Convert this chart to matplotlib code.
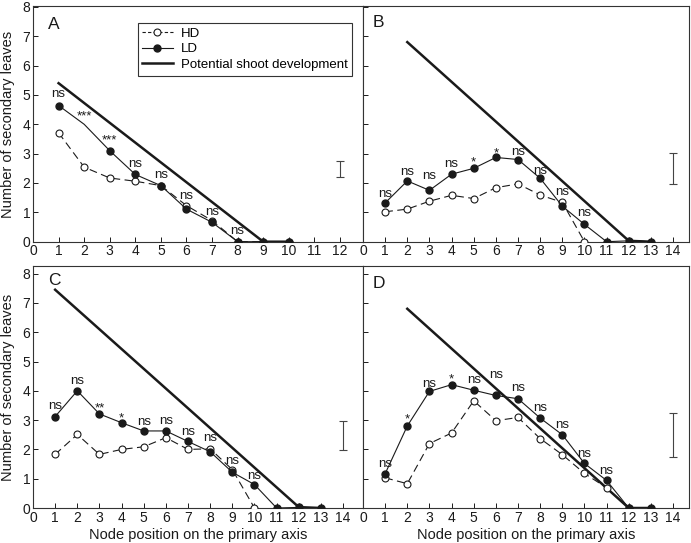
import matplotlib
matplotlib.use("Agg")
import matplotlib.pyplot as plt
from matplotlib.lines import Line2D

plt.rcParams['font.family'] = ['Liberation Sans', 'DejaVu Sans']

# ---- data ----
# panel A
a_ld_x = [1, 2, 3, 4, 5, 6, 7, 8, 9, 10]
a_ld_y = [4.64, 4.0, 3.1, 2.29, 1.91, 1.11, 0.66, 0, 0, 0]
a_hd_x = [1, 2, 3, 4, 5, 6, 7, 8, 9, 10]
a_hd_y = [3.71, 2.54, 2.17, 2.06, 1.91, 1.23, 0.72, 0, 0, 0]
a_pot_x = [1, 9, 10]
a_pot_y = [5.4, 0, 0]
a_sig = ["ns", "***", "***", "ns", "ns", "ns", "ns", "ns"]
a_sig_y = [4.92, 4.17, 3.34, 2.54, 2.17, 1.45, 0.92, 0.26]

# panel B
b_ld_x = [1, 2, 3, 4, 5, 6, 7, 8, 9, 10, 11, 12, 13]
b_ld_y = [1.32, 2.07, 1.75, 2.30, 2.50, 2.87, 2.80, 2.16, 1.21, 0.59, 0, 0.03, 0]
b_hd_x = [1, 2, 3, 4, 5, 6, 7, 8, 9, 10]
b_hd_y = [1.02, 1.11, 1.38, 1.58, 1.47, 1.84, 1.97, 1.59, 1.34, 0]
b_pot_x = [2, 12, 13]
b_pot_y = [6.8, 0.03, 0]
b_sig = ["ns", "ns", "ns", "ns", "*", "*", "ns", "ns", "ns", "ns"]
b_sig_y = [1.52, 2.26, 2.14, 2.54, 2.61, 2.92, 2.96, 2.31, 1.60, 0.89]

# panel C
c_ld_x = [1, 2, 3, 4, 5, 6, 7, 8, 9, 10, 11, 12, 13]
c_ld_y = [3.12, 4.0, 3.21, 2.91, 2.63, 2.63, 2.27, 1.92, 1.22, 0.8, 0, 0.02, 0]
c_hd_x = [1, 2, 3, 4, 5, 6, 7, 8, 9, 10]
c_hd_y = [1.83, 2.51, 1.83, 2.0, 2.09, 2.4, 2.0, 2.02, 1.31, 0]
c_pot_x = [1, 12, 13]
c_pot_y = [7.45, 0.03, 0]
c_sig = ["ns", "ns", "**", "*", "ns", "ns", "ns", "ns", "ns", "ns"]
c_sig_y = [3.38, 4.23, 3.31, 2.96, 2.84, 2.86, 2.48, 2.27, 1.50, 1.00]

# panel D
d_ld_x = [1, 2, 3, 4, 5, 6, 7, 8, 9, 10, 11, 12, 13]
d_ld_y = [1.17, 2.8, 3.98, 4.21, 4.02, 3.84, 3.73, 3.07, 2.50, 1.52, 0.94, 0, 0]
d_hd_x = [1, 2, 3, 4, 5, 6, 7, 8, 9, 10, 11, 12]
d_hd_y = [1.03, 0.83, 2.2, 2.56, 3.66, 2.98, 3.09, 2.37, 1.82, 1.18, 0.69, 0]
d_pot_x = [2, 12, 13]
d_pot_y = [6.8, 0, 0]
d_sig = ["ns", "*", "ns", "*", "ns", "ns", "ns", "ns", "ns", "ns", "ns"]
d_sig_y = [1.41, 2.91, 4.12, 4.27, 4.26, 4.43, 3.98, 3.30, 2.72, 1.74, 1.17]

# error bars (x, low, high)
err_x = [12, 14, 14, 14]
err_lo = [2.2, 1.98, 1.99, 1.74]
err_hi = [2.76, 3.01, 2.98, 3.25]

panel_letters = ["A", "B", "C", "D"]

col = "#1a1a1a"

fig = plt.figure(figsize=(6.91, 5.43), dpi=100)
rects = [
    [33 / 691, 1 - 241.7 / 543, 330 / 691, 235.7 / 543],
    [363 / 691, 1 - 241.7 / 543, 326 / 691, 235.7 / 543],
    [33 / 691, 1 - 508 / 543, 330 / 691, 242 / 543],
    [363 / 691, 1 - 508 / 543, 326 / 691, 242 / 543],
]
xlims = [(0, 12.9), (0, 14.72), (0, 14.9), (0, 14.72)]
ylims = [(0, 8.03), (0, 8.03), (0, 8.26), (0, 8.26)]
xticks = [range(0, 13), range(0, 15), range(0, 15), range(0, 15)]
letter_pos = [(0.045, 0.955), (0.03, 0.96), (0.045, 0.97), (0.03, 0.96)]

panels = [
    (a_ld_x, a_ld_y, a_hd_x, a_hd_y, a_pot_x, a_pot_y, a_sig, a_sig_y),
    (b_ld_x, b_ld_y, b_hd_x, b_hd_y, b_pot_x, b_pot_y, b_sig, b_sig_y),
    (c_ld_x, c_ld_y, c_hd_x, c_hd_y, c_pot_x, c_pot_y, c_sig, c_sig_y),
    (d_ld_x, d_ld_y, d_hd_x, d_hd_y, d_pot_x, d_pot_y, d_sig, d_sig_y),
]

axes = []
for i, (ldx, ldy, hdx, hdy, px, py, sig, sigy) in enumerate(panels):
    ax = fig.add_axes(rects[i])
    axes.append(ax)
    # potential shoot development
    ax.plot(px, py, color=col, lw=1.8, zorder=2)
    # HD dashed, open markers
    ax.plot(hdx, hdy, color=col, lw=0.8, dashes=(7, 4), marker="o", ms=5,
            mfc="white", mec=col, mew=0.8, zorder=3)
    # LD solid, filled markers (panel A has no marker at node 2)
    mk = list(range(len(ldx)))
    if i == 0:
        mk.remove(1)
    ax.plot(ldx, ldy, color=col, lw=0.8, marker="o", ms=5, mfc=col, mec=col,
            markevery=mk, zorder=4)
    for k, (s, yy) in enumerate(zip(sig, sigy)):
        ax.text(k + 1, yy, s, ha="center", va="baseline", fontsize=9.5, color=col)
    # standalone error bar
    ax.errorbar([err_x[i]], [(err_lo[i] + err_hi[i]) / 2],
                yerr=[(err_hi[i] - err_lo[i]) / 2], fmt="none",
                ecolor="#444444", elinewidth=0.8, capsize=3, capthick=0.8)
    ax.text(letter_pos[i][0], letter_pos[i][1], panel_letters[i],
            transform=ax.transAxes, ha="left", va="top",
            fontsize=12.5, color=col)

    ax.set_xlim(*xlims[i])
    ax.set_ylim(*ylims[i])
    ax.set_xticks(list(xticks[i]))
    ax.set_yticks(range(0, 9))
    ax.tick_params(direction="in", length=3.5, width=0.7, labelsize=10,
                   colors=col, pad=2)
    if i % 2 == 1:
        ax.tick_params(labelleft=False)
    for sp in ax.spines.values():
        sp.set_linewidth(0.8)
        sp.set_color("#333333")

handles = [
    Line2D([], [], color=col, lw=0.8, dashes=(3, 2), marker="o", ms=5,
           mfc="white", mec=col, mew=0.8),
    Line2D([], [], color=col, lw=0.8, marker="o", ms=5, mfc=col, mec=col),
    Line2D([], [], color=col, lw=1.8),
]
leg = axes[0].legend(handles, ["HD", "LD", "Potential shoot development"],
                     loc="upper right", bbox_to_anchor=(352 / 691, 1 - 23 / 543),
                     bbox_transform=fig.transFigure, fontsize=9.5,
                     fancybox=False, framealpha=1, edgecolor="#333333",
                     borderpad=0.35, labelspacing=0.25, handlelength=2.3,
                     handletextpad=0.6, borderaxespad=0)
leg.get_frame().set_linewidth(0.8)

fig.text(8 / 691, 1 - 124 / 543, "Number of secondary leaves", rotation=90,
         ha="center", va="center", fontsize=10.5, color=col)
fig.text(8 / 691, 1 - 387 / 543, "Number of secondary leaves", rotation=90,
         ha="center", va="center", fontsize=10.5, color=col)
fig.text(198 / 691, 1 - 535 / 543, "Node position on the primary axis",
         ha="center", va="center", fontsize=10.5, color=col)
fig.text(526 / 691, 1 - 535 / 543, "Node position on the primary axis",
         ha="center", va="center", fontsize=10.5, color=col)

fig.savefig("out.png", dpi=100)
